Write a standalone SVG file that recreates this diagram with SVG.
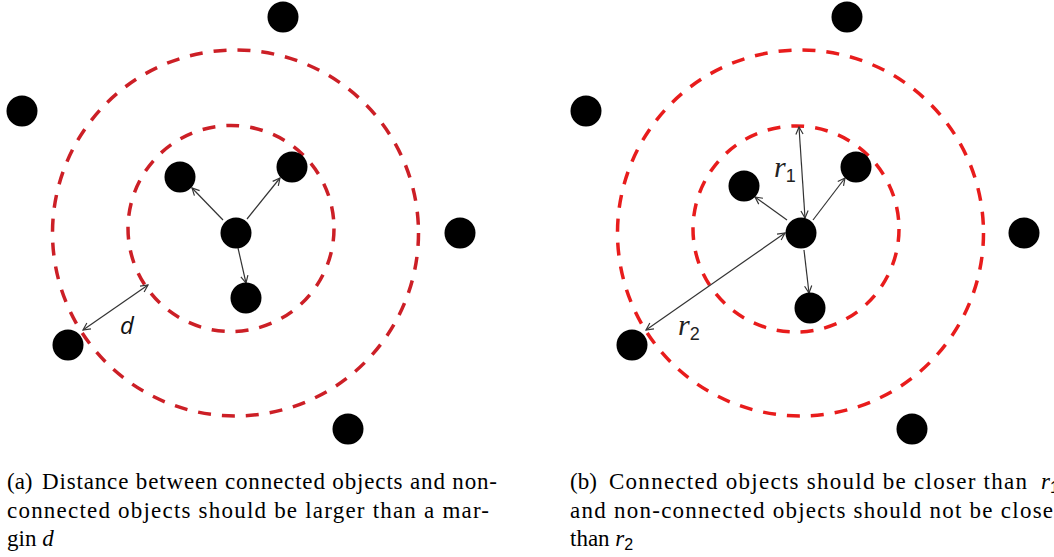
<svg xmlns="http://www.w3.org/2000/svg" width="1054" height="557" viewBox="0 0 1054 557">
<defs>
<marker id="ah" viewBox="0 0 10 10" refX="9" refY="5" markerWidth="9" markerHeight="9" markerUnits="userSpaceOnUse" orient="auto-start-reverse">
<path d="M1,1 L9,5 L1,9" fill="none" stroke="#333" stroke-width="1.3"/>
</marker>
</defs>
<style>
.dot{fill:#000}
.ringA{fill:none;stroke:#cc1f26;stroke-width:3.5;stroke-dasharray:13 11}
.ringB{fill:none;stroke:#e81c1c;stroke-width:3.5;stroke-dasharray:13 11}
.arr{stroke:#333;stroke-width:1.2;fill:none;marker-end:url(#ah)}
.dbl{stroke:#333;stroke-width:1.2;fill:none;marker-end:url(#ah);marker-start:url(#ah)}
.cap{font-family:"Liberation Serif",serif;font-size:23px;fill:#000}
.it{font-style:italic}
.lbl{font-family:"Liberation Serif",serif;font-style:italic;fill:#222}
</style>
<rect width="1054" height="557" fill="#fff"/>

<!-- Panel (a) -->
<g id="rings-a">
<circle class="ringA" cx="235.5" cy="233" r="183"/>
<circle class="ringA" cx="231" cy="228.5" r="103"/>
</g>
<g id="connectors-a">
<line class="arr" x1="223" y1="220" x2="192" y2="188"/>
<line class="arr" x1="247" y1="219" x2="280" y2="178"/>
<line class="arr" x1="238" y1="248" x2="246" y2="283"/>
<line class="dbl" x1="83" y1="330" x2="148" y2="285"/>
</g>
<g id="a-center"><circle class="dot" cx="236" cy="233" r="15.5"/></g>
<g id="a-in1"><circle class="dot" cx="180" cy="177" r="15.5"/></g>
<g id="a-in2"><circle class="dot" cx="292" cy="167" r="15.5"/></g>
<g id="a-in3"><circle class="dot" cx="246" cy="298" r="15.5"/></g>
<g id="a-out1"><circle class="dot" cx="283" cy="17" r="15.5"/></g>
<g id="a-out2"><circle class="dot" cx="22" cy="111" r="15.5"/></g>
<g id="a-out3"><circle class="dot" cx="460" cy="233" r="15.5"/></g>
<g id="a-out4"><circle class="dot" cx="348" cy="429" r="15.5"/></g>
<g id="a-out5"><circle class="dot" cx="68" cy="345" r="15.5"/></g>
<text x="120" y="334" font-family="'Open Sans',sans-serif" font-style="italic" font-size="24" fill="#111">d</text>

<!-- Panel (b) -->
<g id="rings-b">
<circle class="ringB" cx="800.5" cy="233" r="183"/>
<circle class="ringB" cx="796" cy="229" r="103"/>
</g>
<g id="connectors-b">
<line class="arr" x1="787" y1="220" x2="755" y2="197"/>
<line class="arr" x1="813" y1="220" x2="845" y2="178"/>
<line class="arr" x1="804" y1="250" x2="809" y2="293"/>
<line class="dbl" x1="805" y1="218" x2="799" y2="127"/>
<line class="dbl" x1="646" y1="330" x2="785" y2="233"/>
</g>
<g id="b-center"><circle class="dot" cx="801" cy="233" r="15.5"/></g>
<g id="b-in1"><circle class="dot" cx="744" cy="186" r="15.5"/></g>
<g id="b-in2"><circle class="dot" cx="856" cy="167" r="15.5"/></g>
<g id="b-in3"><circle class="dot" cx="810" cy="308" r="15.5"/></g>
<g id="b-out1"><circle class="dot" cx="847" cy="17" r="15.5"/></g>
<g id="b-out2"><circle class="dot" cx="586" cy="111" r="15.5"/></g>
<g id="b-out3"><circle class="dot" cx="1024" cy="233" r="15.5"/></g>
<g id="b-out4"><circle class="dot" cx="912" cy="429" r="15.5"/></g>
<g id="b-out5"><circle class="dot" cx="632" cy="345" r="15.5"/></g>
<text class="lbl" x="774" y="177" font-size="30">r<tspan font-style="normal" font-family="'Liberation Sans',sans-serif" font-size="18" dy="5">1</tspan></text>
<text class="lbl" x="678" y="335" font-size="30">r<tspan font-style="normal" font-family="'Liberation Sans',sans-serif" font-size="18" dy="5">2</tspan></text>

<!-- Captions -->
<g id="caption-a" class="cap">
<text x="7" y="489">(a)</text>
<text x="42" y="489" textLength="455" lengthAdjust="spacing">Distance between connected objects and non-</text>
<text x="7" y="518" textLength="482" lengthAdjust="spacing">connected objects should be larger than a mar-</text>
<text x="7" y="546">gin <tspan class="it">d</tspan></text>
</g>
<g id="caption-b" class="cap">
<text x="570" y="489">(b)</text>
<text x="609" y="489" textLength="418" lengthAdjust="spacing">Connected objects should be closer than</text>
<text x="1041" y="489" class="it">r<tspan font-style="normal" font-family="'Liberation Sans',sans-serif" font-size="16" dy="4">1</tspan></text>
<text x="570" y="518" textLength="492" lengthAdjust="spacing">and non-connected objects should not be closer</text>
<text x="570" y="546">than <tspan class="it">r</tspan><tspan font-family="'Liberation Sans',sans-serif" font-size="16" dy="4">2</tspan></text>
</g>
</svg>
